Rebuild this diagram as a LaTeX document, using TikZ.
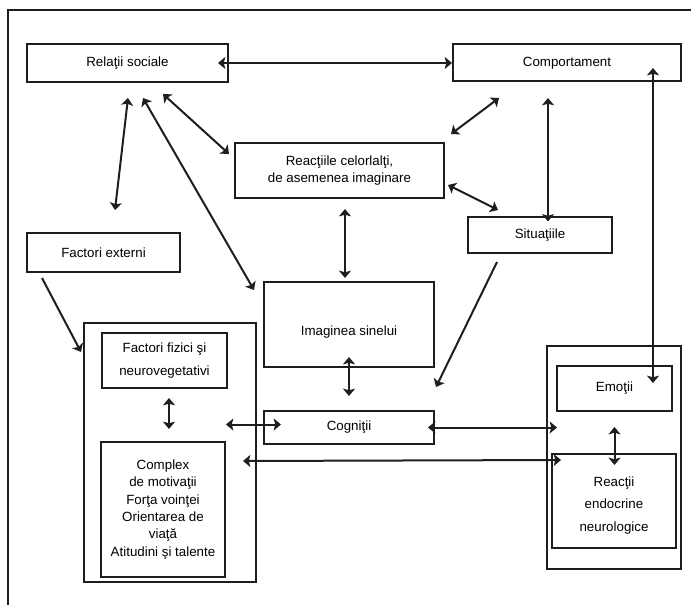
\documentclass[tikz,border=0pt]{standalone}
\usepackage{fontspec}
\setmainfont{Liberation Sans}
\usetikzlibrary{arrows.meta,calc}
\definecolor{dink}{HTML}{1E1E1E}
\tikzset{
  box/.style  ={draw=dink, line width=1.5pt, fill=white, inner sep=2pt,
                align=center, font=\fontsize{10}{13}\selectfont},
  wbox/.style ={box, font=\fontsize{10}{17}\selectfont},
  gbox/.style ={box},
  flow/.style ={-{Stealth[length=5.5pt, width=9pt, inset=1.2pt]}, line width=1.5pt, draw=dink},
  dflow/.style={flow, {Stealth[length=5.5pt, width=9pt, inset=1.2pt]}-{Stealth[length=5.5pt, width=9pt, inset=1.2pt]}},
}
\begin{document}
\begin{tikzpicture}[x=0.75pt, y=-0.75pt]
  \useasboundingbox (0,0) rectangle (691,605);
  % outer frame (cut at right and bottom)
  \draw[dink, line width=1.5pt] (8,605) -- (8,10) -- (691,10);

  % groups
  \node[gbox, minimum width=129pt, minimum height=194.25pt] (lgrp) at (170,452.5) {};
  \node[gbox, minimum width=100.5pt, minimum height=167.25pt] (rgrp) at (614,457.5) {};

  % boxes
  \node[box, minimum width=150.75pt, minimum height=28.5pt] (rel) at (127.5,63) {Relaţii sociale};
  \node[box, minimum width=171pt, minimum height=27.75pt] (comp) at (567,63) {Comportament};
  \node[box, minimum width=156.75pt, minimum height=41.25pt] (reac) at (339.5,170.5) {Reacţiile celorlalţi,\\de asemenea imaginare};
  \node[box, minimum width=108pt, minimum height=27pt] (sit) at (540,235) {Situaţiile};
  \node[box, minimum width=114.75pt, minimum height=29.25pt] (ext) at (103.5,252.5) {Factori externi};
  \node[box, minimum width=127.5pt, minimum height=63.75pt] (img) at (349,324.5) {\rule{0pt}{19pt}Imaginea sinelui};
  \node[box, minimum width=127.5pt, minimum height=24.75pt] (cog) at (349,427.5) {Cogniţii};
  \node[wbox, minimum width=93.75pt, minimum height=41.25pt] (fiz) at (164.5,360.5) {Factori fizici şi\\neurovegetativi};
  \node[box, minimum width=93pt, minimum height=101.25pt] (cpx) at (163,509.5) {Complex\\de motivaţii\\Forţa voinţei\\Orientarea de\\viaţă\\Atitudini şi talente};
  \node[box, minimum width=86.25pt, minimum height=33.75pt] (emo) at (614.5,388.5) {Emoţii};
  \node[wbox, minimum width=93pt, minimum height=70.5pt] (endo) at (614,501) {\rule{0pt}{14pt}Reacţii\\endocrine\\neurologice};

  % connectors
  \draw[dflow] ($(rel.east)+(-11,0)$) -- (comp.west);
  \draw[dflow] ($(rel.south)+(0.5,15)$) -- ($(ext.north)+(11.5,-22)$);
  \draw[dflow] ($(rel.south)+(15.5,15)$) -- ($(img.north west)+(-9,9)$);
  \draw[dflow] ($(rel.south)+(35.5,11)$) -- ($(reac.north west)+(-5,12)$);
  \draw[dflow] ($(comp.south)+(-68,15.5)$) -- ($(reac.north east)+(6,-8)$);
  \draw[dflow] ($(comp.south)+(-19,15.5)$) -- ($(comp.south)+(-19,139)$);
  \draw[dflow] ($(reac.east)+(3,14.5)$) -- ($(sit.north)+(-42,-6)$);
  \draw[dflow] ($(reac.south)+(5.5,10)$) -- ($(img.north)+(-4,-3)$);
  \draw[dflow] ($(comp.south east)+(-29,-14.5)$) -- ($(emo.north east)+(-20,18)$);
  \draw[flow]  ($(sit.south)+(-43,8)$) -- ($(cog.north east)+(1,-23)$);
  \draw[flow]  ($(ext.south)+(-61.5,5)$) -- ($(lgrp.north west)+(-2,30)$);
  \draw[dflow] ($(img.south)+(0,-11)$) -- ($(cog.north)+(0,-14)$);
  \draw[dflow] ($(fiz.south)+(4.5,9)$) -- ($(fiz.south)+(4.5,40)$);
  \draw[dflow] ($(cog.west)+(-37,-3)$) -- ($(cog.west)+(18,-3)$);
  \draw[dflow] ($(cog.east)+(-7,0)$) -- ($(rgrp.west|-cog.east)+(11,0)$);
  \draw[dflow] ($(lgrp.east)+(-14,8.5)$) -- ($(endo.north west)+(10,7)$);
  \draw[dflow] ($(emo.south)+(0,15)$) -- ($(endo.north)+(0.5,12)$);
\end{tikzpicture}
\end{document}
